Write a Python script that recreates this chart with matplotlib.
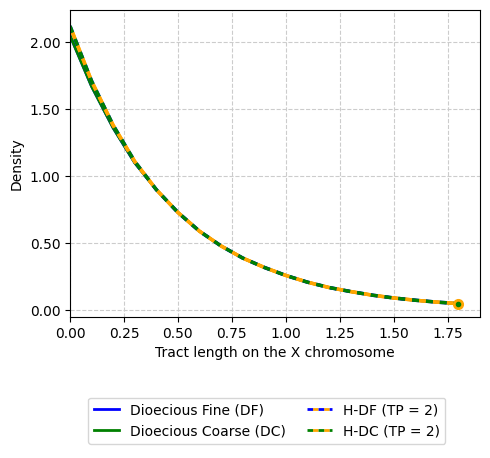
import matplotlib
matplotlib.use("Agg")
import matplotlib.pyplot as plt
from matplotlib.ticker import FormatStrFormatter
from matplotlib.lines import Line2D

x = [0.0, 0.1, 0.2, 0.3, 0.4, 0.5, 0.6, 0.7, 0.8, 0.9, 1.0, 1.1, 1.2, 1.3, 1.4, 1.5, 1.6, 1.7, 1.8]
df = [2.05, 1.67, 1.36, 1.10, 0.90, 0.73, 0.59, 0.48, 0.39, 0.32, 0.26, 0.21, 0.17, 0.14, 0.113, 0.092, 0.075, 0.061, 0.05]
dc = [2.05, 1.67, 1.36, 1.10, 0.90, 0.73, 0.59, 0.48, 0.39, 0.32, 0.26, 0.21, 0.17, 0.14, 0.113, 0.092, 0.075, 0.061, 0.05]
hdf = [2.12, 1.71, 1.38, 1.11, 0.90, 0.73, 0.59, 0.48, 0.39, 0.32, 0.26, 0.21, 0.17, 0.14, 0.113, 0.092, 0.075, 0.061, 0.05]
hdc = [2.12, 1.71, 1.38, 1.11, 0.90, 0.73, 0.59, 0.48, 0.39, 0.32, 0.26, 0.21, 0.17, 0.14, 0.113, 0.092, 0.075, 0.061, 0.05]

fig = plt.figure(figsize=(4.9, 4.58), dpi=100)
ax = fig.add_axes([70/490, 1-317/458, 410/490, 307/458])
ax.plot(x, df, color="blue", lw=2)
ax.plot(x, dc, color="green", lw=2)
ax.plot(x, hdf, color="blue", lw=2.5, ls=(0, (2, 2)), gapcolor="orange")
ax.plot(x, hdc, color="green", lw=2.5, ls=(0, (2, 2)), gapcolor="orange")
ax.plot([x[-1]], [hdc[-1]], "o", color="orange", ms=7)
ax.plot([x[-1]], [hdc[-1]], "o", color="green", ms=3)

h = [Line2D([], [], color="blue", lw=2), Line2D([], [], color="green", lw=2),
     Line2D([], [], color="blue", lw=2, ls=(0, (2, 2)), gapcolor="orange"),
     Line2D([], [], color="green", lw=2, ls=(0, (2, 2)), gapcolor="orange")]
ax.legend(h, ["Dioecious Fine (DF)", "Dioecious Coarse (DC)", "H-DF (TP = 2)", "H-DC (TP = 2)"],
          ncol=2, loc="upper center", bbox_to_anchor=(0.48, -0.24), handlelength=1.8, columnspacing=1.5)
ax.set_xlim(0, 1.9)
ax.set_ylim(-0.05, 2.24)
ax.set_xticks([0, 0.25, 0.5, 0.75, 1.0, 1.25, 1.5, 1.75])
ax.set_yticks([0, 0.5, 1.0, 1.5, 2.0])
ax.yaxis.set_major_formatter(FormatStrFormatter("%.2f"))
ax.grid(True, ls="--", color="#cccccc")
ax.set_xlabel("Tract length on the X chromosome")
ax.set_ylabel("Density")
fig.savefig("out.png", dpi=100)
